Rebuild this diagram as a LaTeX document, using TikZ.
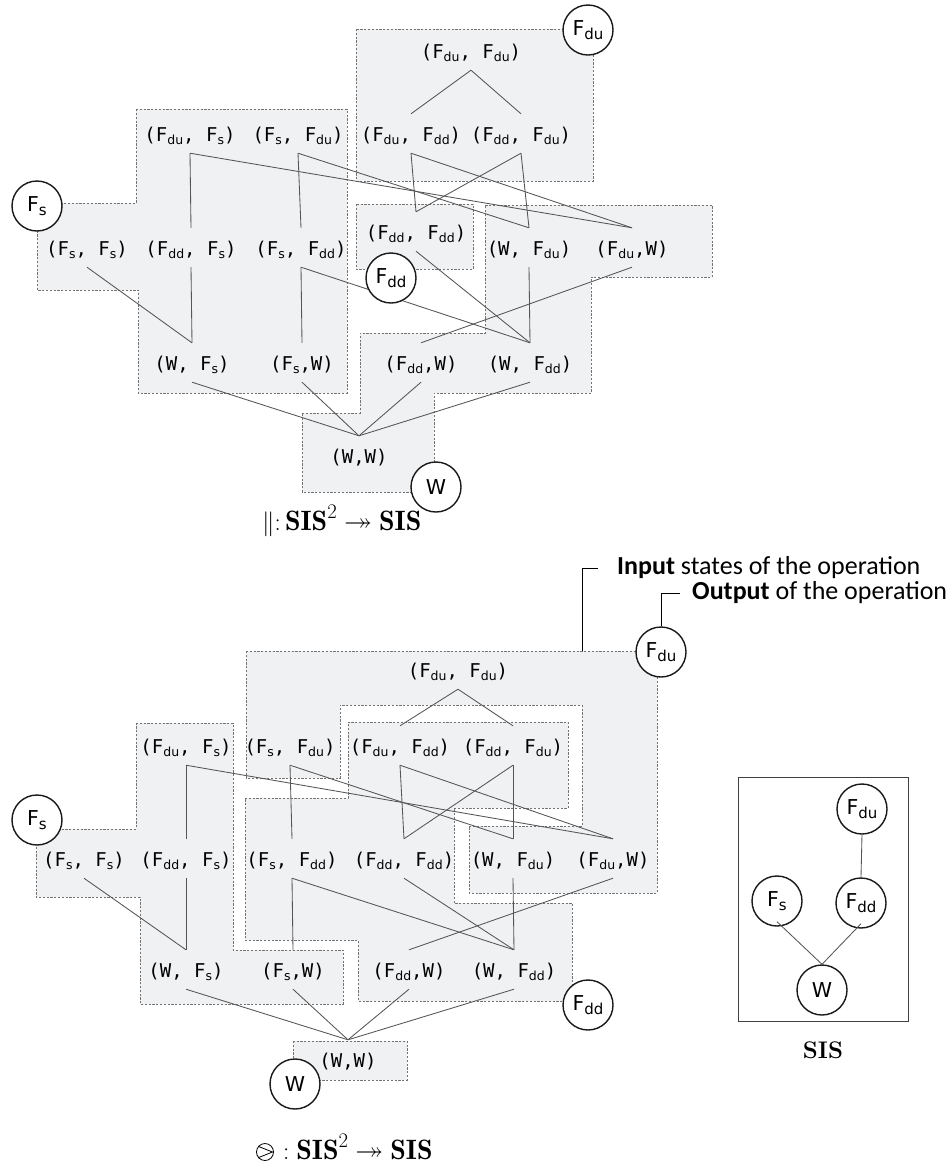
\documentclass[tikz,border=0pt]{standalone}
\usepackage{fontspec}
\usepackage{amssymb}
\newfontfamily\pairfont{DejaVu Sans Mono}
\newfontfamily\statefont{DejaVu Sans}
\newfontfamily\notefont{Carlito}
\definecolor{regionfill}{RGB}{240,241,243}
\definecolor{dashgray}{RGB}{115,115,115}
\definecolor{linkgray}{RGB}{85,85,85}
\definecolor{ringblack}{RGB}{25,25,25}
% subscripts of the pair labels and of the state circles
\newcommand{\psub}[1]{\raisebox{-0.3ex}{\statefont\fontsize{12.5}{12.5}\selectfont #1}}
\newcommand{\ssub}[1]{\raisebox{-0.3ex}{\fontsize{15}{15}\selectfont #1}}
\tikzset{
  region/.style={draw=dashgray, fill=regionfill, line width=0.7pt, dash pattern=on 2.2pt off 1.6pt},
  pair/.style={font=\pairfont\fontsize{19}{19}\selectfont, inner sep=0pt, text height=27pt, text depth=12pt, anchor=base},
  link/.style={draw=linkgray, line width=0.85pt},
  statering/.style={circle, draw=ringblack, line width=1.4pt, fill=white, minimum size=50pt, inner sep=0pt, font=\statefont\fontsize{20.5}{20.5}\selectfont},
  opname/.style={font=\fontsize{28}{28}\selectfont, inner sep=0pt, anchor=base west},
  note/.style={font=\notefont\fontsize{26}{26}\selectfont, anchor=west, inner sep=0pt},
  leader/.style={draw=black, line width=0.9pt},
}
\begin{document}
\begin{tikzpicture}[x=1pt, y=-1pt]
\useasboundingbox (0,0) rectangle (949,1171);
\fill[white] (0,0) rectangle (949,1171);

% ---------- parallel composition: regions ----------
\draw[region] (136,109) -- (347,109) -- (347,393) -- (138,393) -- (138,290) -- (37,290) -- (37,203) -- (136,203) -- cycle;
\draw[region] (356,29) rectangle (593,181);
\draw[region] (356,204) rectangle (473,269);
\draw[region] (302,413) -- (360,413) -- (360,333) -- (485,333) -- (485,205) -- (712,205) -- (712,277) -- (591,277) -- (591,393) -- (434,393) -- (434,492) -- (302,492) -- cycle;

% ---------- parallel composition: state pairs ----------
\node[pair] (a-dudu) at (471,58) {(F\psub{du}, F\psub{du})};
\node[pair] (a-dus)  at (190,141) {(F\psub{du}, F\psub{s})};
\node[pair] (a-sdu)  at (298,141) {(F\psub{s}, F\psub{du})};
\node[pair] (a-dudd) at (411,141) {(F\psub{du}, F\psub{dd})};
\node[pair] (a-dddu) at (521,141) {(F\psub{dd}, F\psub{du})};
\node[pair] (a-ss)   at (87,255)  {(F\psub{s}, F\psub{s})};
\node[pair] (a-dds)  at (191,255) {(F\psub{dd}, F\psub{s})};
\node[pair] (a-sdd)  at (301,255) {(F\psub{s}, F\psub{dd})};
\node[pair] (a-dddd) at (416,239) {(F\psub{dd}, F\psub{dd})};
\node[pair] (a-wdu)  at (529,255) {(W, F\psub{du})};
\node[pair] (a-duw)  at (632,255) {(F\psub{du},W)};
\node[pair] (a-ws)   at (192,370) {(W, F\psub{s})};
\node[pair] (a-sw)   at (302,370) {(F\psub{s},W)};
\node[pair] (a-ddw)  at (421,370) {(F\psub{dd},W)};
\node[pair] (a-wdd)  at (530,370) {(W, F\psub{dd})};
\node[pair] (a-ww)   at (359,463) {(W,W)};

% ---------- second composition: regions ----------
\draw[region] (246,651) -- (657,651) -- (657,893) -- (469,893) -- (469,826) -- (582,826) -- (582,705) -- (340,705) -- (340,778) -- (246,778) -- cycle;
\draw[region] (245,798) -- (348,798) -- (348,722) -- (568,722) -- (568,808) -- (454,808) -- (454,903) -- (572,903) -- (572,1001) -- (358,1001) -- (358,940) -- (245,940) -- cycle;
\draw[region] (136,723) -- (233,723) -- (233,950) -- (343,950) -- (343,1004) -- (140,1004) -- (140,897) -- (36,897) -- (36,829) -- (136,829) -- cycle;
\draw[region] (293,1041) rectangle (407,1080);

% ---------- second composition: state pairs ----------
\node[pair] (b-dudu) at (458,677) {(F\psub{du}, F\psub{du})};
\node[pair] (b-dus)  at (186,753) {(F\psub{du}, F\psub{s})};
\node[pair] (b-sdu)  at (290,753) {(F\psub{s}, F\psub{du})};
\node[pair] (b-dudd) at (400,753) {(F\psub{du}, F\psub{dd})};
\node[pair] (b-dddu) at (513,753) {(F\psub{dd}, F\psub{du})};
\node[pair] (b-ss)   at (84,866)  {(F\psub{s}, F\psub{s})};
\node[pair] (b-dds)  at (186,866) {(F\psub{dd}, F\psub{s})};
\node[pair] (b-sdd)  at (292,866) {(F\psub{s}, F\psub{dd})};
\node[pair] (b-dddd) at (404,866) {(F\psub{dd}, F\psub{dd})};
\node[pair] (b-wdu)  at (513,866) {(W, F\psub{du})};
\node[pair] (b-duw)  at (613,866) {(F\psub{du},W)};
\node[pair] (b-ws)   at (186,977) {(W, F\psub{s})};
\node[pair] (b-sw)   at (293,977) {(F\psub{s},W)};
\node[pair] (b-ddw)  at (409,977) {(F\psub{dd},W)};
\node[pair] (b-wdd)  at (514,977) {(W, F\psub{dd})};
\node[pair] (b-ww)   at (348,1067) {(W,W)};

% ---------- order relation between pairs (same in both) ----------
\foreach \p in {a,b}{
  \draw[link] (\p-dudu.south) -- (\p-dudd.north);
  \draw[link] (\p-dudu.south) -- (\p-dddu.north);
  \draw[link] (\p-dus.south) -- (\p-dds.north);
  \draw[link] (\p-dus.south) -- (\p-duw.north);
  \draw[link] (\p-sdu.south) -- (\p-sdd.north);
  \draw[link] (\p-sdu.south) -- (\p-wdu.north);
  \draw[link] (\p-dudd.south) -- (\p-dddd.north);
  \draw[link] (\p-dudd.south) -- (\p-duw.north);
  \draw[link] (\p-dddu.south) -- (\p-dddd.north);
  \draw[link] (\p-dddu.south) -- (\p-wdu.north);
  \draw[link] (\p-ss.south) -- (\p-ws.north);
  \draw[link] (\p-dds.south) -- (\p-ws.north);
  \draw[link] (\p-sdd.south) -- (\p-sw.north);
  \draw[link] (\p-sdd.south) -- (\p-wdd.north);
  \draw[link] (\p-dddd.south) -- (\p-wdd.north);
  \draw[link] (\p-wdu.south) -- (\p-wdd.north);
  \draw[link] (\p-duw.south) -- (\p-ddw.north);
  \draw[link] (\p-ws.south) -- (\p-ww.north);
  \draw[link] (\p-sw.south) -- (\p-ww.north);
  \draw[link] (\p-ddw.south) -- (\p-ww.north);
  \draw[link] (\p-wdd.south) -- (\p-ww.north);
}

% ---------- output states of each region ----------
\node[statering] (a-Fs)  at (37,206)  {F\ssub{s}};
\node[statering] (a-Fdu) at (588,30)  {F\ssub{du}};
\node[statering] (a-Fdd) at (391,278) {F\ssub{dd}};
\node[statering] (a-W)   at (436,487) {W};

\node[statering] (b-Fs)  at (37,820)   {F\ssub{s}};
\node[statering] (b-Fdu) at (661,652)  {F\ssub{du}};
\node[statering] (b-Fdd) at (588,1005) {F\ssub{dd}};
\node[statering] (b-W)   at (295,1084) {W};

% ---------- operation names ----------
\node[opname] (par-op) at (262,530) {$\|\colon \mathbf{SIS}^2 \twoheadrightarrow \mathbf{SIS}$};
\node[circle, draw=black, line width=0.8pt, minimum size=17pt, inner sep=0pt] (ogt) at (265,1152) {};
\draw[black, line width=0.8pt] (ogt.140) -- ([xshift=-1.5pt]ogt.east) -- (ogt.220);
\node[opname] (ten-op) at (283,1159) {$\mathord{:}\;\mathbf{SIS}^2 \twoheadrightarrow \mathbf{SIS}$};

% ---------- legend ----------
\coordinate (in-pt) at (582,651);
\node[note] (in-lbl) at (617,568) {\textbf{Input} states of the operation};
\draw[leader] (in-pt) |- ([xshift=-19pt]in-lbl.west);
\node[note] (out-lbl) at (692,593) {\textbf{Output} of the operation};
\draw[leader] (b-Fdu.north) |- ([xshift=-12pt]out-lbl.west);

% ---------- the lattice SIS ----------
\draw[draw=black!75, line width=1pt] (738,777) rectangle (908,1021);
\node[statering] (s-Fdu) at (862,809) {F\ssub{du}};
\node[statering] (s-Fs)  at (777,901) {F\ssub{s}};
\node[statering] (s-Fdd) at (861,903) {F\ssub{dd}};
\node[statering] (s-W)   at (822,990) {W};
\draw[link] (s-Fdu.south) -- (s-Fdd.north);
\draw[link] ([yshift=5pt]s-Fs.south) -- (s-W.north);
\draw[link] ([yshift=5pt]s-Fdd.south) -- (s-W.north);
\node[font=\bfseries\fontsize{24}{24}\selectfont, inner sep=0pt] (sis-lbl) at (823,1050) {SIS};
\end{tikzpicture}
\end{document}
